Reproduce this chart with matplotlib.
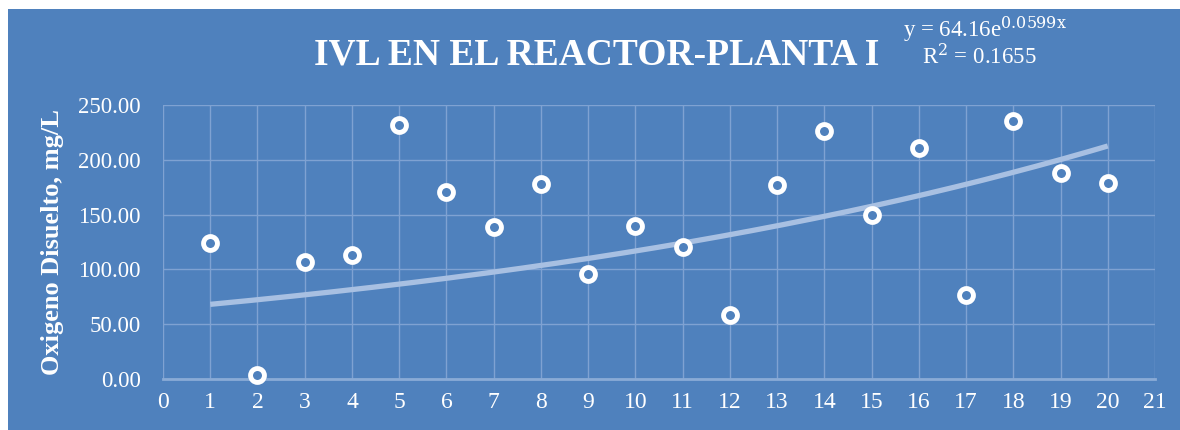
import numpy as np
import matplotlib
matplotlib.use("Agg")
import matplotlib.pyplot as plt
from matplotlib.patches import Rectangle

# ---- data ----
x_vals = [1, 2, 3, 4, 5, 6, 7, 8, 9, 10, 11, 12, 13, 14, 15, 16, 17, 18, 19, 20]
ivl = [124, 4, 107, 113, 232, 171, 139, 178, 96, 140, 120, 58, 177, 226, 150, 211, 77, 235, 188, 179]
fit_a = 64.16
fit_b = 0.0599
fit_r2 = 0.1655
title = "IVL EN EL REACTOR-PLANTA I"
ylabel = "Oxigeno Disuelto, mg/L"
x_ticks = list(range(0, 22))
y_ticks = [0, 50, 100, 150, 200, 250]

BG = "#4F81BD"
GRID = "#7FA2D2"
TREND = "#A8C0E2"
FONT = ["Liberation Serif", "DejaVu Serif"]

fig = plt.figure(figsize=(11.8, 4.3), dpi=100, facecolor="white")
fig.patches.append(Rectangle((8/1180, 0), 1 - 8/1180, 1 - 9/430, transform=fig.transFigure,
                             facecolor=BG, edgecolor="none", zorder=-10))

ax = fig.add_axes([163/1180, 1 - 379/430, (1155-163)/1180, (379-105)/430])
ax.set_facecolor(BG)

ax.set_xlim(0, 21)
ax.set_ylim(0, 250)
ax.set_xticks(x_ticks)
ax.set_yticks(y_ticks)
ax.set_yticklabels([f"{v:.2f}" for v in y_ticks])
ax.grid(True, color=GRID, linewidth=1.0, zorder=0)
ax.set_axisbelow(True)
for s in ["top", "right", "left"]:
    ax.spines[s].set_visible(False)
ax.spines["bottom"].set_color("#8AABD6")
ax.spines["bottom"].set_linewidth(2.0)
ax.tick_params(length=0, colors="white")
ax.tick_params(axis="y", pad=16, labelsize=16.5)
ax.tick_params(axis="x", pad=9, labelsize=17)
for lab in ax.get_xticklabels() + ax.get_yticklabels():
    lab.set_family(FONT)

# trendline
xt = np.linspace(min(x_vals), max(x_vals), 200)
ax.plot(xt, fit_a * np.exp(fit_b * xt), color=TREND, linewidth=3.8, zorder=2,
        solid_capstyle="butt")

ax.plot(x_vals, ivl, linestyle="none", marker="o", markersize=10,
        markerfacecolor=BG, markeredgecolor="white", markeredgewidth=3.5, zorder=3,
        clip_on=False)

ax.set_ylabel(ylabel, color="white", fontsize=19, fontweight="bold", family=FONT, labelpad=10)

fig.text(597/1180, 1 - 55/430, title, color="white", fontsize=27, fontweight="bold",
         family=FONT, ha="center", va="center")
fig.text(903/1180, 1 - 30/430, r"y = 64.16e$^{\mathrm{0.0599x}}$", color="white", fontsize=16.5,
         family=FONT, ha="left", va="center", math_fontfamily="dejavuserif")
fig.text(922/1180, 1 - 57/430, "R$^{2}$ = 0.1655", color="white", fontsize=16.5,
         family=FONT, ha="left", va="center", math_fontfamily="dejavuserif")

fig.savefig("out.png", dpi=100, facecolor="white")
